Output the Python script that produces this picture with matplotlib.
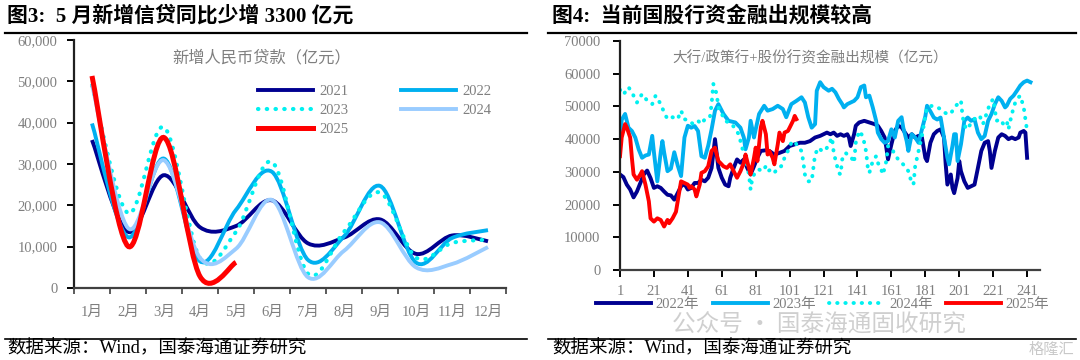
import numpy as np
import matplotlib
matplotlib.use('Agg')
import matplotlib.pyplot as plt
from matplotlib.path import Path
from matplotlib.patches import PathPatch
from matplotlib.lines import Line2D
from matplotlib.ticker import StrMethodFormatter

plt.rcParams['font.family'] = ['Liberation Serif', 'Noto Sans CJK SC', 'DejaVu Sans']

# ---------------- left chart: monthly new RMB loans (亿元) ----------------
months = ['1月', '2月', '3月', '4月', '5月', '6月', '7月', '8月', '9月', '10月', '11月', '12月']
loans_2021 = [35800, 13600, 27300, 14700, 15000, 21200, 10800, 12200, 16600, 8262, 12700, 11300]
loans_2022 = [39800, 12300, 31300, 6454, 18900, 28100, 6790, 12500, 24700, 6152, 12100, 14000]
loans_2023 = [49000, 18100, 38900, 7188, 13600, 30500, 3459, 13600, 23100, 7384, 10900, 11700]
loans_2024 = [49200, 14500, 30900, 7300, 9500, 21300, 2600, 9000, 15900, 5000, 5800, 9900]
loans_2025 = [51300, 10100, 36400, 2800, 6200]

# ---------------- right chart: daily lending of big + joint-stock banks (亿元) ----------------
days_2022 = [1, 3, 5, 7, 9, 11, 13, 15, 17, 19, 21, 23, 25, 27, 29, 31, 33, 35, 37, 39, 41, 43, 45, 47,
             49, 51, 53, 55, 57, 59, 61, 63, 65, 66, 68, 70, 72, 74, 76, 78, 80, 82, 84, 87, 89, 92,
             95, 98, 101, 104, 107, 110, 113, 116, 119, 121, 123, 125, 127, 129, 131, 133, 135, 136,
             137, 139, 140, 142, 145, 148, 151, 153, 155, 157, 158, 159, 161, 163, 165, 167, 169, 171,
             173, 175, 177, 179, 181, 182, 184, 186, 188, 190, 192, 193, 194, 196, 197, 198, 200, 201,
             202, 204, 206, 208, 210, 212, 214, 216, 218, 219, 220, 222, 224, 226, 228, 230, 232, 234,
             236, 237, 239, 240, 241]
vals_2022 = [29200, 28400, 26100, 24600, 22200, 24000, 26600, 29200, 30400, 28100, 25100, 25600, 25100,
             24000, 23000, 22800, 21500, 23500, 25600, 26300, 24600, 25100, 26600, 26600, 27600, 27100,
             28200, 31200, 40000, 31200, 28200, 26100, 25600, 28200, 31200, 33800, 32800, 33800, 31200,
             29200, 31700, 34300, 36400, 36600, 36400, 35300, 35800, 36400, 37900, 38400, 38900, 38900,
             39400, 40500, 41000, 41500, 42000, 41500, 42000, 41000, 41500, 41000, 41500, 40500, 37900,
             41500, 44100, 45100, 45600, 45100, 44600, 44100, 42500, 40500, 37400, 33800, 38400, 42500,
             44100, 43600, 42000, 40500, 41500, 40500, 41000, 40500, 34300, 33300, 38900, 41500, 42500,
             43000, 40500, 32300, 26100, 29200, 25100, 23500, 28100, 33300, 30200, 27100, 25100, 25600,
             26100, 31200, 36400, 38900, 39400, 36400, 31200, 36400, 40500, 41500, 41000, 40000, 40500,
             40000, 40500, 42000, 42500, 42000, 34300]

days_2023 = [1, 2, 4, 6, 8, 10, 12, 14, 16, 18, 20, 21, 23, 25, 26, 27, 29, 31, 33, 35, 37, 39, 41, 43,
             45, 47, 49, 51, 53, 55, 57, 59, 62, 65, 69, 72, 74, 75, 77, 78, 80, 81, 83, 86, 88, 91, 94,
             97, 99, 102, 105, 108, 110, 112, 114, 116, 117, 119, 121, 124, 126, 128, 130, 132, 133, 135,
             137, 139, 141, 143, 145, 146, 148, 150, 152, 153, 155, 157, 159, 161, 163, 165, 167, 168,
             170, 171, 173, 175, 177, 179, 181, 182, 184, 186, 188, 190, 192, 194, 195, 197, 198, 199,
             200, 202, 204, 206, 208, 210, 212, 214, 216, 218, 220, 222, 224, 226, 228, 229, 231, 233,
             235, 237, 239, 241, 243]
vals_2023 = [40000, 45900, 47700, 43500, 42500, 40500, 36900, 34300, 35000, 35300, 41000, 36000, 27100,
             36000, 39400, 36000, 30200, 31000, 36000, 32000, 28700, 40500, 44100, 43500, 44000, 42500,
             34800, 34300, 38000, 43000, 48700, 50700, 47700, 45600, 45100, 43500, 40500, 36900, 40500,
             45600, 40500, 43000, 47700, 50200, 48700, 49200, 50200, 49200, 46700, 50700, 51700, 52800,
             51200, 46700, 43500, 44600, 54800, 57400, 55900, 54800, 55400, 54300, 52300, 50700, 49700,
             50700, 51200, 51700, 52800, 55900, 56400, 52800, 53300, 49700, 45600, 42000, 40000, 38900,
             39400, 43000, 40500, 45600, 46700, 43500, 39400, 36400, 41500, 40500, 38900, 43000, 47000,
             50200, 48500, 46600, 46000, 46600, 40500, 34300, 32300, 38000, 41500, 41500, 33300, 38400,
             45600, 46600, 45600, 46100, 42000, 40000, 41000, 45600, 47700, 50700, 52800, 51700, 49700,
             50200, 52300, 53300, 54800, 56400, 57400, 57900, 57400]

days_2024 = [1, 3, 6, 8, 11, 14, 17, 20, 22, 25, 27, 29, 32, 35, 37, 39, 42, 44, 47, 49, 51, 54, 55, 56,
             58, 59, 61, 63, 65, 67, 69, 71, 73, 75, 77, 78, 79, 81, 83, 85, 87, 88, 90, 92, 94, 96, 98,
             100, 102, 104, 106, 108, 109, 110, 112, 114, 116, 118, 120, 122, 124, 126, 127, 129, 130,
             131, 132, 134, 135, 137, 139, 140, 142, 144, 145, 146, 147, 148, 150, 152, 153, 155, 156,
             158, 159, 161, 163, 165, 167, 169, 171, 172, 174, 175, 177, 179, 181, 182, 185, 188, 190,
             192, 194, 196, 198, 200, 202, 203, 205, 207, 209, 211, 213, 215, 217, 219, 221, 223, 225,
             227, 229, 230, 232, 234, 236, 237, 239, 241]
vals_2024 = [55100, 53600, 55900, 54300, 51200, 53800, 51800, 50700, 53300, 50700, 48200, 46100, 46700,
             46100, 48700, 46100, 45600, 44600, 45600, 44600, 46100, 46700, 50700, 56900, 53800, 49700,
             47700, 45600, 45100, 44600, 43000, 41500, 37400, 34300, 29200, 24600, 28100, 30200, 30700,
             30200, 31700, 30200, 30700, 29700, 31200, 31700, 34300, 36400, 38900, 39400, 37400, 36400,
             33300, 29200, 27100, 27100, 35300, 37400, 36400, 36400, 38400, 40500, 35800, 31700, 29700,
             29200, 33800, 35800, 35300, 34800, 32800, 38900, 42500, 41000, 38900, 36400, 31700, 29700,
             33300, 34800, 32800, 30700, 29200, 33300, 37900, 37400, 35300, 33800, 32800, 31700, 30200,
             28200, 26100, 31700, 36400, 41000, 47000, 49700, 50200, 49700, 49200, 48200, 47700, 47700,
             49700, 50700, 51800, 46700, 43000, 44100, 45600, 46700, 47200, 44600, 47700, 50700, 52300,
             45600, 46100, 44600, 45600, 43000, 47700, 51200, 52800, 53300, 49700, 42500]

days_2025 = [1, 2, 4, 5, 7, 8, 9, 11, 13, 14, 16, 18, 19, 21, 23, 25, 27, 29, 30, 32, 34, 36, 37, 39, 41,
             42, 43, 45, 46, 48, 49, 51, 53, 55, 57, 59, 60, 62, 64, 66, 68, 70, 72, 74, 75, 77, 78, 80,
             81, 82, 84, 85, 87, 88, 89, 91, 92, 94, 95, 97, 98, 100, 101, 103, 104, 105]
vals_2025 = [34800, 40500, 44600, 43600, 40500, 34300, 29200, 27600, 29200, 30200, 26100, 21000, 15800,
             14800, 15800, 15300, 13300, 15300, 14300, 15800, 17800, 24100, 27100, 26600, 26100, 25100,
             25600, 24600, 22500, 26100, 29700, 30200, 31700, 36400, 37400, 33300, 32800, 31700, 31200,
             32300, 30200, 28200, 30200, 32800, 35300, 31200, 29200, 34300, 37400, 33300, 43500, 45600,
             41500, 35300, 36400, 34300, 32300, 38400, 42000, 39400, 42000, 42500, 43500, 45600, 47100,
             46100]

GRAY = '#7f7f7f'
NAVY = '#000090'
SKY = '#00B0F0'
AQUA = '#00F0F0'
PALE = '#99CCFF'
RED = '#FF0000'
DOT = (0, (0.1, 2.0))


def smooth_line(ax, xs, ys, **kw):
    # Excel-style smoothed line: cubic bezier segments through the data points
    pts = np.column_stack([xs, ys]).astype(float)
    n = len(pts)
    verts = [pts[0]]
    codes = [Path.MOVETO]
    for i in range(n - 1):
        p0 = pts[max(i - 1, 0)]
        p1 = pts[i]
        p2 = pts[i + 1]
        p3 = pts[min(i + 2, n - 1)]
        verts += [p1 + (p2 - p0) / 6, p2 - (p3 - p1) / 6, p2]
        codes += [Path.CURVE4] * 3
    ax.add_patch(PathPatch(Path(verts, codes), fill=False, transform=ax.transData, **kw))


fig = plt.figure(figsize=(10.8, 3.6), dpi=100)


def fx(px):
    return px / 1080


def fy(py):
    return 1 - py / 360


# ---- left axes ----
ax1 = fig.add_axes([fx(74), fy(288), 432 / 1080, 248 / 360])
left_series = [
    ('2021', loans_2021, dict(edgecolor=NAVY, linewidth=2.8)),
    ('2022', loans_2022, dict(edgecolor=SKY, linewidth=2.8)),
    ('2023', loans_2023, dict(edgecolor=AQUA, linewidth=3.0, linestyle=DOT, capstyle='round')),
    ('2024', loans_2024, dict(edgecolor=PALE, linewidth=2.8)),
    ('2025', loans_2025, dict(edgecolor=RED, linewidth=3.6)),
]
handles = {}
for z, (name, vals, style) in enumerate(left_series):
    smooth_line(ax1, np.arange(len(vals)), vals, zorder=3 + z, **style)
    handles[name] = Line2D([], [], color=style['edgecolor'], linewidth=style['linewidth'],
                           linestyle=style.get('linestyle', '-'), dash_capstyle='round')

ax1.set_xlim(-0.5, 11.5)
ax1.set_ylim(0, 60000)
ax1.set_yticks(range(0, 60001, 10000))
ax1.yaxis.set_major_formatter(StrMethodFormatter('{x:,.0f}'))
ax1.set_xticks(range(12))
ax1.set_xticklabels(months)
ax1.set_xticks(np.arange(-0.5, 12, 1), minor=True)
ax1.tick_params(axis='x', which='major', length=0, pad=13, labelsize=10.5, labelcolor=GRAY)
ax1.tick_params(axis='x', which='minor', length=4, width=1.2, color='#404040', direction='out')
ax1.tick_params(axis='y', length=5, width=1.4, direction='out', pad=7, labelsize=10.5, labelcolor=GRAY)
for s in ['top', 'right']:
    ax1.spines[s].set_visible(False)
ax1.spines['left'].set_linewidth(1.6)
ax1.spines['left'].set_color('#202020')
ax1.spines['bottom'].set_linewidth(1.6)
ax1.spines['bottom'].set_color('#404040')

leg_order = ['2021', '2023', '2025', '2022', '2024']
ax1.legend([handles[k] for k in leg_order], leg_order, ncol=2, loc='upper left',
           bbox_to_anchor=(fx(258), fy(85)), bbox_transform=fig.transFigure, frameon=False,
           borderpad=0, borderaxespad=0, handlelength=3.8, handletextpad=0.4,
           columnspacing=3.6, labelspacing=0.38, fontsize=10.5, labelcolor=GRAY)
fig.text(fx(262), fy(58), '新增人民币贷款（亿元）', ha='center', va='center',
         fontsize=11.7, color=GRAY)

# ---- right axes ----
ax2 = fig.add_axes([fx(620), fy(270), 420 / 1080, 229 / 360])
right_series = [
    ('2022年', days_2022, vals_2022, dict(color=NAVY, linewidth=2.8)),
    ('2023年', days_2023, vals_2023, dict(color=SKY, linewidth=2.8)),
    ('2024年', days_2024, vals_2024, dict(color=AQUA, linewidth=2.8, linestyle=DOT,
                                         dash_capstyle='round')),
    ('2025年', days_2025, vals_2025, dict(color=RED, linewidth=2.8)),
]
for name, d, v, style in right_series:
    ax2.plot(d, v, label=name, solid_joinstyle='round', **style)

ax2.set_xlim(1, 248.6)
ax2.set_ylim(0, 70000)
ax2.set_yticks(range(0, 70001, 10000))
ax2.set_xticks(range(1, 242, 20))
ax2.tick_params(axis='both', length=5, width=1.4, direction='out', labelsize=10.5, labelcolor=GRAY)
ax2.tick_params(axis='y', pad=9)
ax2.tick_params(axis='x', pad=6)
for s in ['top', 'right']:
    ax2.spines[s].set_visible(False)
ax2.spines['left'].set_linewidth(1.6)
ax2.spines['left'].set_color('#202020')
ax2.spines['bottom'].set_linewidth(1.6)
ax2.spines['bottom'].set_color('#404040')
ax2.legend(ncol=4, loc='center left', bbox_to_anchor=(fx(596), fy(304)),
           bbox_transform=fig.transFigure, frameon=False, borderpad=0, borderaxespad=0,
           handlelength=3.8, handletextpad=0.3, columnspacing=0.9, fontsize=10.5,
           labelcolor=GRAY)
fig.text(fx(810), fy(58), '大行/政策行+股份行资金融出规模（亿元）', ha='center', va='center',
         fontsize=10.5, color=GRAY)

# ---- titles, rules, sources ----
fig.text(fx(7), fy(16), '图3:  5 月新增信贷同比少增 3300 亿元', ha='left', va='center',
         fontsize=15, fontweight='bold', color='black')
fig.text(fx(552), fy(16), '图4:  当前国股行资金融出规模较高', ha='left', va='center',
         fontsize=15, fontweight='bold', color='black')
for x0, x1 in [(5, 527), (548, 1076)]:
    fig.add_artist(Line2D([fx(x0), fx(x1)], [fy(33), fy(33)], color='black', lw=1.6,
                          transform=fig.transFigure))
    fig.add_artist(Line2D([fx(x0), fx(x1)], [fy(339), fy(339)], color='black', lw=1.2,
                          transform=fig.transFigure))
fig.text(fx(7), fy(349), '数据来源：Wind，国泰海通证券研究', ha='left', va='center',
         fontsize=13.3, color='black')
fig.text(fx(552), fy(349), '数据来源：Wind，国泰海通证券研究', ha='left', va='center',
         fontsize=13.3, color='black')

# watermark (kept just below the legend row)
fig.text(fx(672), fy(325), '公众号 · 国泰海通固收研究', ha='left', va='center',
         fontsize=17, color='#b0b0b0', alpha=0.6, family=['Noto Sans CJK SC'])
fig.text(fx(1074), fy(349), '格隆汇', ha='right', va='center', fontsize=11,
         color='#c8c8c8', family=['Noto Sans CJK SC'])

fig.savefig('out.png', dpi=100)
